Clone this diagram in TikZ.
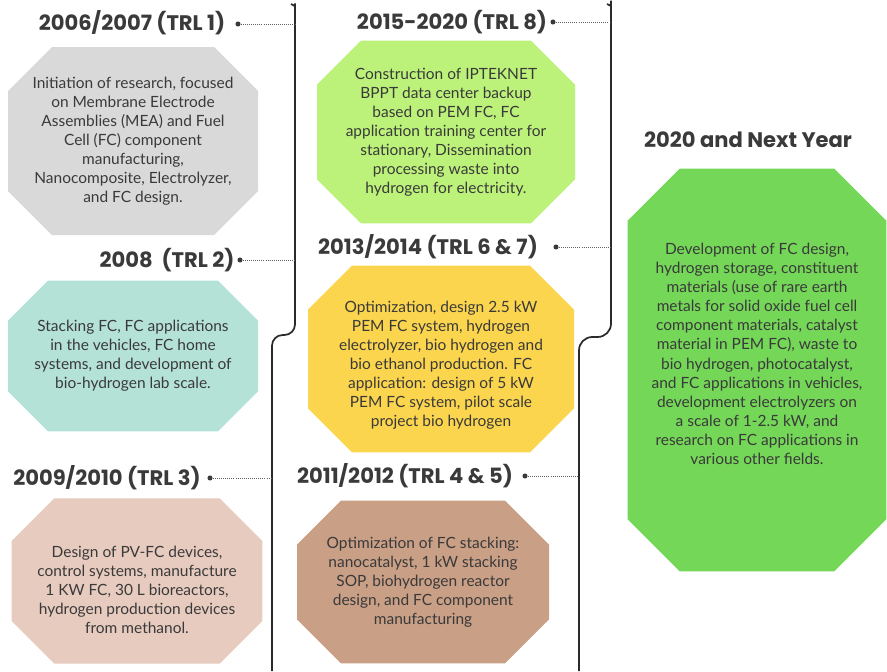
\documentclass[tikz,border=0pt]{standalone}
\usepackage{fontspec}
\setmainfont{Lato}
\newfontfamily\headfont{Poppins}

\definecolor{ink}{HTML}{3A3A3A}
\definecolor{railcol}{HTML}{2A2A2A}
\definecolor{graybox}{HTML}{D9D9D9}
\definecolor{tealbox}{HTML}{B5E2D7}
\definecolor{pinkbox}{HTML}{E7CBBF}
\definecolor{limebox}{HTML}{BDF27A}
\definecolor{yellowbox}{HTML}{FBD54D}
\definecolor{brownbox}{HTML}{C99F86}
\definecolor{greenbox}{HTML}{74D758}

\tikzset{
  % octagon filled inside the node, #1 = colour, #2 = corner cut
  stage/.style 2 args={inner sep=0pt, align=center, text=ink,
    font=\fontsize{11.6}{14.3}\selectfont,
    path picture={\fill[#1]
      ([xshift=#2]path picture bounding box.north west) --
      ([xshift=-#2]path picture bounding box.north east) --
      ([yshift=-#2]path picture bounding box.north east) --
      ([yshift=#2]path picture bounding box.south east) --
      ([xshift=-#2]path picture bounding box.south east) --
      ([xshift=#2]path picture bounding box.south west) --
      ([yshift=#2]path picture bounding box.south west) --
      ([yshift=-#2]path picture bounding box.north west) -- cycle;}},
  head/.style={inner sep=0pt, text=ink, font=\headfont\bfseries\fontsize{15.8}{18}\selectfont},
  bullet/.style={circle, fill=ink, inner sep=0pt, minimum size=3.8pt},
  link/.style={draw=ink!80, line width=0.55pt, densely dotted},
  rail/.style={draw=railcol, line width=1.3pt}
}

\begin{document}
\begin{tikzpicture}[x=0.75pt, y=-0.75pt]
  \useasboundingbox (0,0) rectangle (887,671);

  % --- the two winding rails ---
  \draw[rail, rounded corners=8pt] (291,4) .. controls (294,5) and (295,8) .. (295,14)
    -- (295,335) -- (272,335) -- (272,671);
  \draw[rail, rounded corners=10pt] (607,4) .. controls (610,5) and (611,8) .. (611,14)
    -- (611,337) -- (579,337) -- (579,671);

  % points where the dotted leaders meet the rails
  \coordinate (c1) at (295,24);
  \coordinate (c2) at (295,260);
  \coordinate (c3) at (272,478);
  \coordinate (c45) at (579,476);
  \coordinate (c67) at (611,247);
  \coordinate (c8) at (611,22);

  % --- left column ---
  \node[head] (t1) at (132,23) {2006/2007 (TRL 1)};
  \node[bullet] (d1) at (238,24) {};
  \draw[link] (d1) -- (c1);
  \node[stage={graybox}{33pt}, minimum width=187.5pt, minimum height=141pt] (b1) at (133,141)
    {Initiation of research, focused\\ on Membrane Electrode\\ Assemblies (MEA) and Fuel\\
     Cell (FC) component\\ manufacturing,\\ Nanocomposite, Electrolyzer,\\ and FC design.};

  \node[head] (t2) at (167,260) {2008\ \ (TRL 2)};
  \node[bullet] (d2) at (240,260) {};
  \draw[link] (d2) -- (c2);
  \node[stage={tealbox}{30pt}, minimum width=187.5pt, minimum height=113pt] (b2) at (133,356)
    {Stacking FC, FC applications\\ in the vehicles, FC home\\ systems, and development of\\
     bio-hydrogen lab scale.};

  \node[head] (t3) at (107,478) {2009/2010 (TRL 3)};
  \node[bullet] (d3) at (210,478) {};
  \draw[link] (d3) -- (c3);
  \node[stage={pinkbox}{32pt}, minimum width=188pt, minimum height=124pt] (b3) at (137,581)
    {\rule{0pt}{22pt}Design of PV-FC devices,\\ control systems, manufacture\\ 1 KW FC, 30 L bioreactors,\\
     hydrogen production devices\\ from methanol.};

  % --- middle column ---
  \node[head] (t8) at (452,22) {2015-2020 (TRL 8)};
  \node[bullet] (d8) at (553,22) {};
  \draw[link] (d8) -- (c8);
  \node[stage={limebox}{33pt}, minimum width=193.5pt, minimum height=137pt] (b8) at (446,132)
    {Construction of IPTEKNET\\ BPPT data center backup\\ based on PEM FC, FC\\
     application training center for\\ stationary, Dissemination\\ processing waste into\\
     hydrogen for electricity.};

  \node[head] (t67) at (428,247) {2013/2014 (TRL 6 \& 7)};
  \node[bullet] (d67) at (556,247) {};
  \draw[link] (d67) -- (c67);
  \node[stage={yellowbox}{33pt}, minimum width=199.5pt, minimum height=140pt] (b67) at (441,359)
    {\rule{0pt}{18pt}Optimization, design 2.5 kW\\ PEM FC system, hydrogen\\ electrolyzer, bio hydrogen and\\
     bio ethanol production. FC\\ application: design of 5 kW\\ PEM FC system, pilot scale\\
     project bio hydrogen};

  \node[head] (t45) at (405,476) {2011/2012 (TRL 4 \& 5)};
  \node[bullet] (d45) at (525,476) {};
  \draw[link] (d45) -- (c45);
  \node[stage={brownbox}{33pt}, minimum width=189pt, minimum height=122pt] (b45) at (423,582)
    {Optimization of FC stacking:\\ nanocatalyst, 1 kW stacking\\ SOP, biohydrogen reactor\\
     design, and FC component\\ manufacturing};

  % --- right column ---
  \node[head] (tnext) at (748,140) {2020 and Next Year};
  \node[stage={greenbox}{39pt}, minimum width=194pt, minimum height=302pt] (bnext) at (757,370)
    {Development of FC design,\\ hydrogen storage, constituent\\ materials (use of rare earth\\
     metals for solid oxide fuel cell\\ component materials, catalyst\\ material in PEM FC), waste to\\
     bio hydrogen, photocatalyst,\\ and FC applications in vehicles,\\ development electrolyzers on\\
     a scale of 1-2.5 kW, and\\ research on FC applications in\\ various other fields.\\[10pt]};
\end{tikzpicture}
\end{document}
